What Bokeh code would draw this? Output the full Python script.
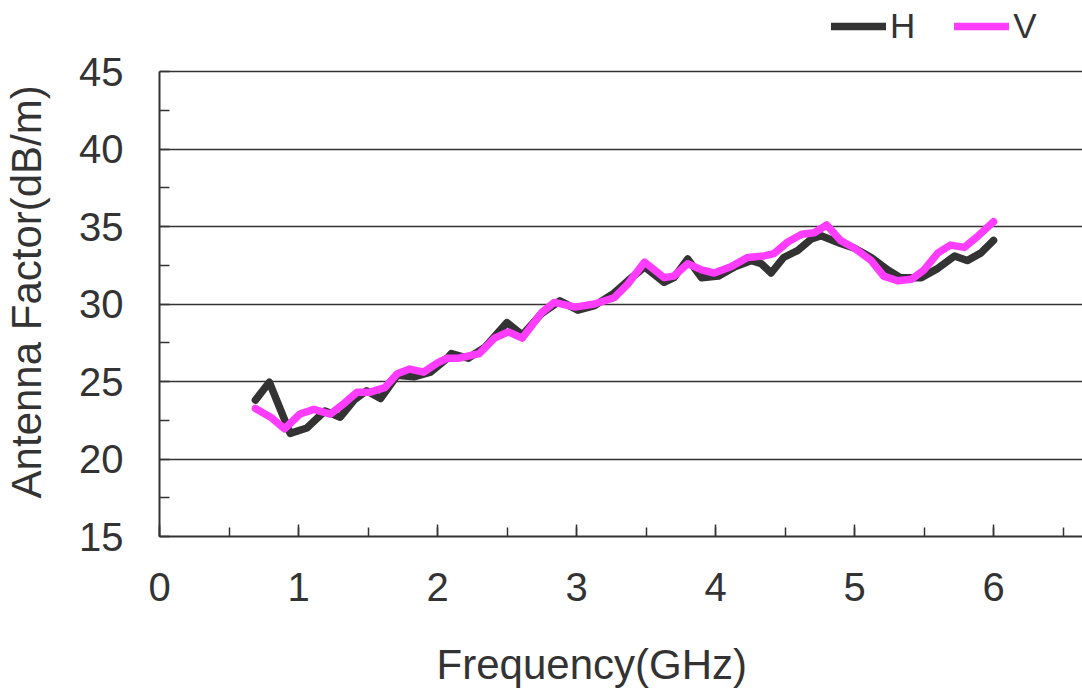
import math
from bokeh.plotting import figure
from bokeh.models import (ColumnDataSource, Legend, LegendItem,
                          SingleIntervalTicker, Range1d)
from bokeh.embed import file_html
from bokeh.resources import INLINE

# ---- data ----
h_freq = [0.69, 0.79, 0.94, 1.06, 1.19, 1.30, 1.40, 1.49, 1.59, 1.71, 1.83, 1.95,
          2.07, 2.10, 2.22, 2.34, 2.50, 2.61, 2.75, 2.88, 3.01, 3.13, 3.27, 3.37,
          3.49, 3.63, 3.70, 3.80, 3.90, 4.02, 4.14, 4.26, 4.33, 4.40, 4.49, 4.59,
          4.69, 4.76, 4.90, 5.00, 5.12, 5.24, 5.33, 5.48, 5.60, 5.72, 5.81, 5.91, 6.00]
h_af = [23.8, 24.95, 21.65, 22.0, 23.1, 22.7, 23.8, 24.4, 23.9, 25.4, 25.3, 25.6,
        26.5, 26.8, 26.5, 27.2, 28.8, 28.0, 29.4, 30.2, 29.6, 29.9, 30.7, 31.5,
        32.4, 31.4, 31.7, 32.9, 31.7, 31.8, 32.4, 32.8, 32.6, 32.0, 33.0, 33.45,
        34.2, 34.4, 33.9, 33.6, 33.0, 32.2, 31.7, 31.7, 32.3, 33.1, 32.8, 33.3, 34.1]

v_freq = [0.69, 0.80, 0.90, 1.01, 1.11, 1.23, 1.33, 1.42, 1.51, 1.62, 1.71, 1.80,
          1.90, 2.00, 2.07, 2.15, 2.30, 2.41, 2.51, 2.61, 2.75, 2.84, 2.99, 3.13,
          3.27, 3.37, 3.49, 3.63, 3.70, 3.80, 3.90, 3.99, 4.11, 4.23, 4.35, 4.42,
          4.52, 4.62, 4.71, 4.80, 4.90, 5.00, 5.12, 5.21, 5.31, 5.41, 5.50, 5.60,
          5.69, 5.79, 5.89, 6.00]
v_af = [23.26, 22.7, 21.95, 22.9, 23.2, 22.9, 23.6, 24.3, 24.3, 24.6, 25.5, 25.8,
        25.6, 26.2, 26.5, 26.5, 26.8, 27.8, 28.2, 27.8, 29.45, 30.1, 29.8, 30.0,
        30.4, 31.3, 32.7, 31.7, 31.8, 32.6, 32.2, 32.0, 32.4, 33.0, 33.1, 33.25,
        34.0, 34.5, 34.6, 35.1, 34.1, 33.6, 32.8, 31.8, 31.5, 31.6, 32.2, 33.3,
        33.8, 33.65, 34.4, 35.3]

series_names = ["H", "V"]
x_title = "Frequency(GHz)"
y_title = "Antenna Factor(dB/m)"

FONT = "Liberation Sans"
TXT = "#333333"
H_COL = "#333333"
V_COL = "#ff3cff"
NBSP = "\u00a0"

W, H = 1082, 694
PX_PER_DB = 15.5
Y_TOP = 45 + 71 / PX_PER_DB   # room above the 45 line for the legend
p = figure(width=W, height=H, output_backend="svg", toolbar_location=None,
           x_range=Range1d(0, 6.64), y_range=Range1d(15, Y_TOP),
           min_border_left=157, min_border_right=0, min_border_top=0,
           min_border_bottom=158)
p.outline_line_color = None
p.background_fill_color = "white"
p.border_fill_color = "white"

# axes
p.xaxis.ticker = SingleIntervalTicker(interval=1, num_minor_ticks=2)
p.yaxis.ticker = SingleIntervalTicker(interval=5, num_minor_ticks=2)
p.yaxis.bounds = (15, 45)
for ax in (p.xaxis[0], p.yaxis[0]):
    ax.axis_line_color = "#333333"
    ax.axis_line_width = 2
    ax.major_tick_line_color = "#333333"
    ax.minor_tick_line_color = "#333333"
    ax.major_tick_line_width = 1.5
    ax.minor_tick_line_width = 1.5
    ax.major_tick_out = 0
    ax.minor_tick_out = 0
    ax.major_label_text_font = FONT
    ax.major_label_text_font_size = "40px"
    ax.major_label_text_color = TXT
    ax.major_label_standoff = 36
    ax.axis_label_text_font = FONT
    ax.axis_label_text_font_size = "42px"
    ax.axis_label_text_font_style = "normal"
    ax.axis_label_text_color = TXT
p.xaxis.major_tick_in = 12
p.xaxis.minor_tick_in = 9
p.yaxis.major_tick_in = 0
p.yaxis.minor_tick_in = 10

# titles, nudged off-centre as in the reference with trailing no-break spaces
p.xaxis.axis_label = x_title + NBSP * 5
p.xaxis.axis_label_standoff = 37
p.yaxis.axis_label = y_title + NBSP * 4
p.yaxis.axis_label_standoff = 26

p.xgrid.grid_line_color = None
p.ygrid.grid_line_color = "#333333"
p.ygrid.grid_line_width = 1.3

# lines
src_h = ColumnDataSource(dict(x=h_freq, y=h_af))
src_v = ColumnDataSource(dict(x=v_freq, y=v_af))
rh = p.line("x", "y", source=src_h, line_color=H_COL, line_width=7.5,
            line_join="round", line_cap="round")
rv = p.line("x", "y", source=src_v, line_color=V_COL, line_width=7.5,
            line_join="round", line_cap="round")

legend = Legend(items=[LegendItem(label=series_names[0], renderers=[rh]),
                       LegendItem(label=series_names[1], renderers=[rv])],
                location=(672, 490), orientation="horizontal",
                glyph_width=55, glyph_height=30, label_standoff=4, spacing=39,
                padding=0, margin=0, border_line_color=None,
                background_fill_alpha=0,
                label_text_font=FONT, label_text_font_size="35px",
                label_text_color=TXT)
p.add_layout(legend, "center")

open("out.html", "w").write(file_html(p, INLINE))
